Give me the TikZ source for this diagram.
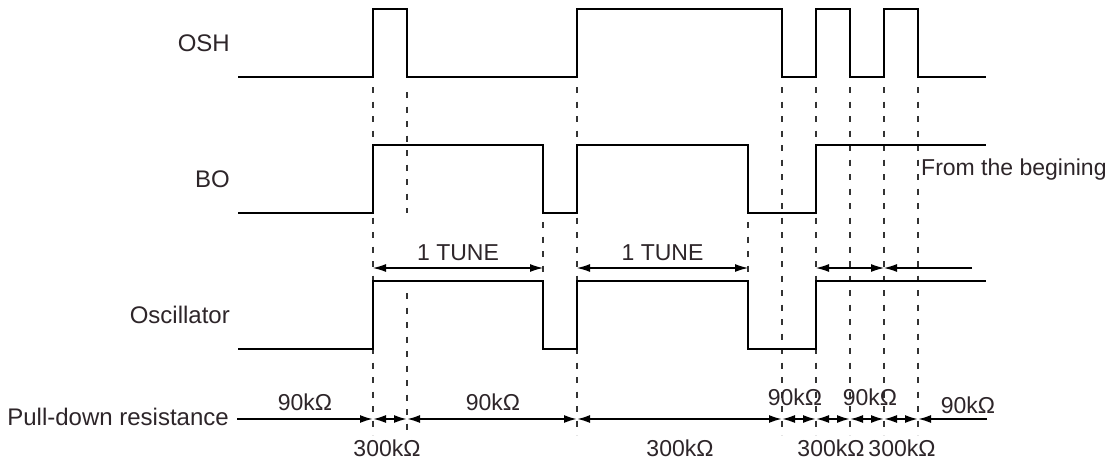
\documentclass[tikz,border=0pt]{standalone}
\usepackage{fontspec}
\setmainfont{Liberation Sans}
\usetikzlibrary{arrows.meta}
\definecolor{labeltext}{RGB}{45,37,41}

\begin{document}
\begin{tikzpicture}[x=1pt,y=-1pt,
  wave/.style={line width=1.9pt},
  guide/.style={line width=1.1pt, dash pattern=on 6pt off 8.5pt, black!80},
  dimline/.style={line width=1.1pt},
  tip/.tip={Latex[length=13pt,width=8pt]},
  lbl/.style={text=labeltext, font=\fontsize{23}{28}\selectfont, inner sep=0pt},
  signame/.style={lbl, anchor=east, font=\fontsize{24}{28}\selectfont}]
\useasboundingbox (0,0) rectangle (1106,461);

% signal names
\node[signame] (osh) at (230,43) {OSH};
\node[signame] (bo) at (230,179) {BO};
\node[signame] (osc) at (230,315) {Oscillator};
\node[signame] (pull) at (229,417) {Pull-down resistance};

% guide lines
\foreach \x in {373,577,782,816,850,884,918}
  \draw[guide] (\x,87) -- (\x,435);
\draw[guide] (407,92) -- (407,213);
\draw[guide] (407,293) -- (407,435);
\draw[guide] (543,222) -- (543,274);
\draw[guide] (748,222) -- (748,274);

% waveforms
\draw[wave] (238,77) -- (373,77) -- (373,9) -- (407,9) -- (407,77) -- (577,77) -- (577,9)
  -- (782,9) -- (782,77) -- (816,77) -- (816,9) -- (850,9) -- (850,77) -- (884,77)
  -- (884,9) -- (918,9) -- (918,77) -- (986,77);
\draw[wave] (238,213) -- (373,213) -- (373,145) -- (543,145) -- (543,213) -- (577,213)
  -- (577,145) -- (748,145) -- (748,213) -- (816,213) -- (816,145) -- (986,145);
\draw[wave] (238,349) -- (373,349) -- (373,281) -- (543,281) -- (543,349) -- (577,349)
  -- (577,281) -- (748,281) -- (748,349) -- (816,349) -- (816,281) -- (986,281);
\node[lbl, anchor=west] (begin) at (921,170) {From the begining};

% tune arrows
\draw[dimline, tip-tip] (373,268) -- node[lbl, above=7pt] (tune1) {1 TUNE} (543,268);
\draw[dimline, tip-tip] (577,268) -- node[lbl, above=7pt] (tune2) {1 TUNE} (748,268);
\draw[dimline, tip-tip] (816,268) -- (884,268);
\draw[dimline, -tip] (972,268) -- (884,268);

% pull-down resistance
\draw[wave, -tip] (237,419) -- (373,419);
\draw[wave, tip-tip] (373,419) -- (407,419);
\draw[wave, tip-tip] (407,419) -- (577,419);
\draw[wave, tip-tip] (577,419) -- (782,419);
\foreach \a/\b in {782/816,816/850,850/884,884/918}
  \draw[wave, tip-tip] (\a,419) -- (\b,419);
\draw[wave, -tip] (987,419) -- (918,419);

\node[lbl] (r1) at (305,402) {90kΩ};
\node[lbl] (r2) at (493,402) {90kΩ};
\node[lbl] (r3) at (795,397) {90kΩ};
\node[lbl] (r4) at (870,397) {90kΩ};
\node[lbl] (r5) at (968,405) {90kΩ};
\node[lbl] (r6) at (387,448) {300kΩ};
\node[lbl] (r7) at (680,448) {300kΩ};
\node[lbl] (r8) at (831,448) {300kΩ};
\node[lbl] (r9) at (902,448) {300kΩ};
\end{tikzpicture}
\end{document}
